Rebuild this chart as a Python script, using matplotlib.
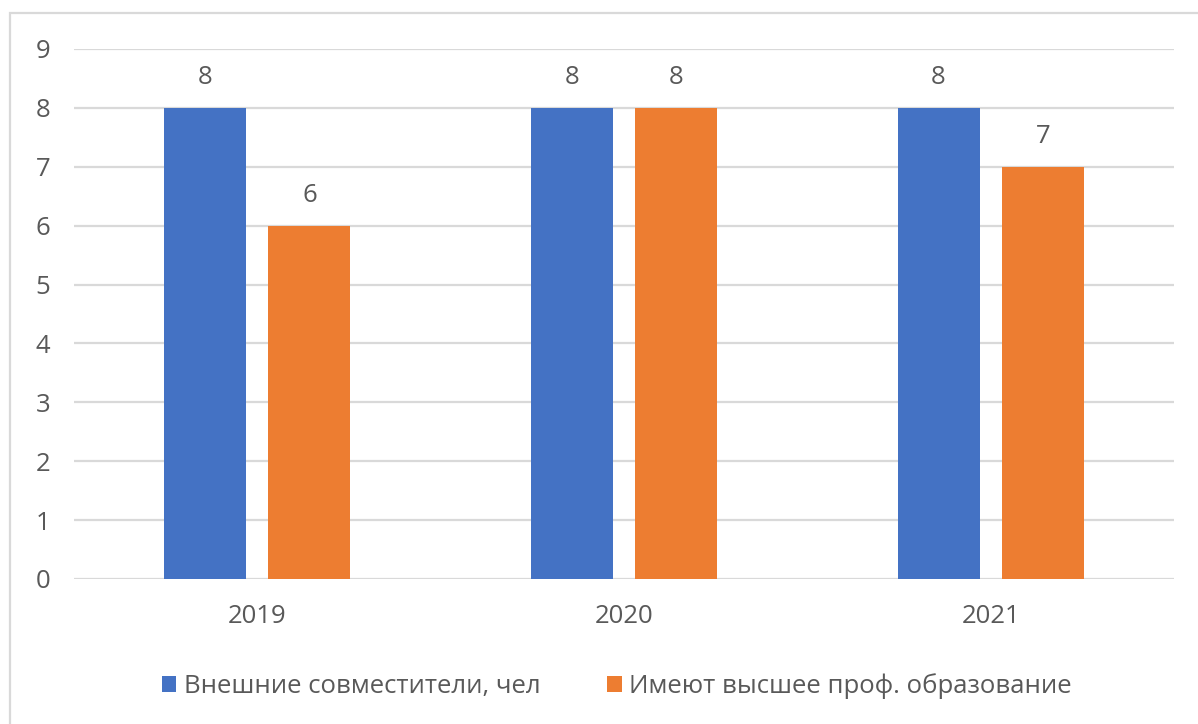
import matplotlib
matplotlib.use("Agg")
import matplotlib.pyplot as plt
from matplotlib.patches import Rectangle, Patch
import numpy as np

years = ["2019", "2020", "2021"]
external = [8, 8, 8]
higher_edu = [6, 8, 7]
series_names = ["Внешние совместители, чел", "Имеют высшее проф. образование"]
yticks = list(range(0, 10))

BLUE = "#4472C4"
ORANGE = "#ED7D31"
GRID = "#D9D9D9"
TEXT = "#595959"
FS = 18.5

plt.rcParams["font.family"] = ["Open Sans", "DejaVu Sans"]

W, H = 1198, 724
fig = plt.figure(figsize=(W / 100, H / 100), dpi=100)

# outer chart frame
fig.patches.append(Rectangle((10 / W, 0 - 0.01), 1.1, 1 - 13 / H + 0.01,
                             transform=fig.transFigure, fill=False,
                             edgecolor=GRID, linewidth=1.6))

ax = fig.add_axes([74 / W, (H - 579) / H, 1100 / W, 530 / H])
x = np.arange(len(years)) + 0.5
width = 0.224
offset = 0.142

b1 = ax.bar(x - offset, external, width, color=BLUE, zorder=3)
b2 = ax.bar(x + offset, higher_edu, width, color=ORANGE, zorder=3)

for bars, vals in ((b1, external), (b2, higher_edu)):
    for rect, v in zip(bars, vals):
        ax.annotate(str(v), (rect.get_x() + rect.get_width() / 2, v),
                    xytext=(0, 13), textcoords="offset points",
                    ha="center", va="bottom", fontsize=FS, color=TEXT)

ax.set_xlim(0, 3)
ax.set_ylim(0, 9)
ax.set_yticks(yticks)
ax.set_yticklabels([str(t) for t in yticks])
ax.set_xticks(x)
ax.set_xticklabels(years)
ax.grid(axis="y", color=GRID, linewidth=1.6, zorder=0)
ax.set_axisbelow(True)
for s in ax.spines.values():
    s.set_visible(False)
ax.tick_params(axis="both", length=0, labelsize=FS, colors=TEXT)
ax.tick_params(axis="y", pad=17)
ax.tick_params(axis="x", pad=18)

handles = [Patch(facecolor=BLUE), Patch(facecolor=ORANGE)]
leg = fig.legend(handles, series_names, loc="center",
                 bbox_to_anchor=(0.515, (H - 686) / H), ncol=2, frameon=False,
                 fontsize=FS, handlelength=0.55, handleheight=0.55,
                 handletextpad=0.3, columnspacing=2.6)
for t in leg.get_texts():
    t.set_color(TEXT)

fig.savefig("out.png", dpi=100, facecolor="white")
